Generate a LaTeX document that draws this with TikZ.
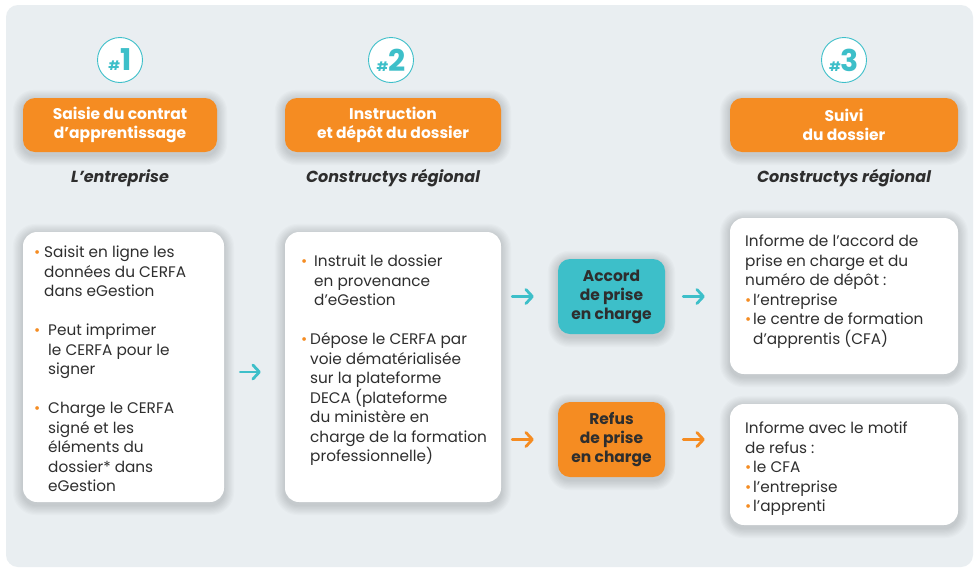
\documentclass[tikz,border=0pt]{standalone}
\usepackage{fontspec}
\setmainfont{Poppins}
\usetikzlibrary{arrows.meta,calc}
\definecolor{bgc}{HTML}{E9EEF1}
\definecolor{orc}{HTML}{F58C22}
\definecolor{tlc}{HTML}{3DBFC9}
\definecolor{txc}{HTML}{2E2E2E}
\pgfdeclarelayer{bgl}
\pgfdeclarelayer{shl}
\pgfsetlayers{bgl,shl,main}
\newcommand{\bl}[1]{\makebox[#1][l]{\textcolor{orc}{\fontsize{15}{15}\selectfont •}}}
\newcommand{\ind}[1]{\hspace*{#1}}
\newcommand{\softsh}[2]{%
  \begin{pgfonlayer}{shl}
  \foreach \i in {1,...,9}{
    \fill[black, opacity=0.016, rounded corners={#2+\i*1pt}]
      ($(#1.south west)+(-\i*1.1,-\i*1.1-3)$) rectangle ($(#1.north east)+(\i*1.1,\i*1.1-2)$);
  }
  \end{pgfonlayer}}
\tikzset{
  wbox/.style={fill=white, rounded corners=14pt, inner sep=0pt},
  hbox/.style={fill=orc, rounded corners=12pt, inner sep=0pt, text=white, align=center,
    font=\fontsize{15.5}{19}\selectfont\bfseries, minimum height=54pt},
  dbox/.style={rounded corners=12pt, inner sep=0pt, text=txc, align=center,
    font=\fontsize{15.5}{19}\selectfont\bfseries, minimum width=107pt, minimum height=75pt},
  numc/.style={circle, draw=tlc, line width=0.9pt, fill=white, minimum size=45pt, inner sep=0pt, text=tlc},
  who/.style={font=\fontsize{16}{18}\selectfont\bfseries\itshape, text=txc},
  body/.style={font=\fontsize{15.3}{19.5}\selectfont, text=txc, align=left, inner sep=0pt, anchor=north west},
  arr/.style={line width=2.8pt, line cap=round, -{Straight Barb[length=6.5pt,width=14pt,line cap=round,line join=round]}},
}
\newcommand{\numtxt}[1]{{\fontsize{13}{13}\selectfont\bfseries\#}{\fontsize{30}{30}\selectfont\bfseries #1}}
\begin{document}
\begin{tikzpicture}[x=1pt,y=1pt]
\useasboundingbox (0,0) rectangle (976,-568);
\begin{pgfonlayer}{bgl}
\fill[white] (0,0) rectangle (976,-568);
\fill[bgc, rounded corners=12pt] (6,-5) rectangle (973,-567);
\end{pgfonlayer}

% numbers
\node[numc] (c1) at (120,-60) {\numtxt{1}};
\node[numc] (c2) at (391,-60) {\numtxt{2}};
\node[numc] (c3) at (844,-60) {\numtxt{3}};

% headers
\node[hbox, minimum width=194pt] (h1) at (120,-125) {Saisie du contrat\\d’apprentissage};
\node[hbox, minimum width=216pt] (h2) at (393,-125) {Instruction\\et dépôt du dossier};
\node[hbox, minimum width=228pt] (h3) at (844,-125) {Suivi\\du dossier};

% who
\node[who] (w1) at (120,-178) {L’entreprise};
\node[who] (w2) at (393,-178) {Constructys régional};
\node[who] (w3) at (844,-178) {Constructys régional};

% white boxes
\node[wbox, minimum width=201pt, minimum height=270pt] (bA) at (123.5,-367) {};
\node[wbox, minimum width=216pt, minimum height=270pt] (bB) at (393,-367) {};
\node[wbox, minimum width=228pt, minimum height=156pt] (bC) at (844,-296) {};
\node[wbox, minimum width=228pt, minimum height=121pt] (bD) at (844,-464.5) {};

% decision boxes
\node[dbox, fill=tlc] (acc) at (611.5,-296.5) {Accord\\de prise\\en charge};
\node[dbox, fill=orc] (ref) at (611.5,-439.5) {Refus\\de prise\\en charge};

% shadows
\softsh{h1}{12pt}\softsh{h2}{12pt}\softsh{h3}{12pt}
\softsh{bA}{14pt}\softsh{bB}{14pt}\softsh{bC}{14pt}\softsh{bD}{14pt}
\softsh{acc}{12pt}\softsh{ref}{12pt}

% texts
\node[body] (tA) at (34,-246) {\bl{10pt}Saisit en ligne les\\
\ind{10pt}données du CERFA\\
\ind{10pt}dans eGestion\\[19.5pt]
\bl{14pt}Peut imprimer\\
\ind{14pt}le CERFA pour le\\
\ind{14pt}signer\\[19.5pt]
\bl{14pt}Charge le CERFA\\
\ind{14pt}signé et les\\
\ind{14pt}éléments du\\
\ind{14pt}dossier* dans\\
\ind{14pt}eGestion};

\node[body] (tB) at (301,-255) {\bl{13pt}Instruit le dossier\\
\ind{13pt}en provenance\\
\ind{13pt}d’eGestion\\[19.5pt]
\bl{9pt}Dépose le CERFA par\\
\ind{9pt}voie dématérialisée\\
\ind{9pt}sur la plateforme\\
\ind{9pt}DECA (plateforme\\
\ind{9pt}du ministère en\\
\ind{9pt}charge de la formation\\
\ind{9pt}professionnelle)};

\node[body] (tC) at (745,-235) {Informe de l’accord de\\
prise en charge et du\\
numéro de dépôt :\\
\bl{8pt}l’entreprise\\
\bl{8pt}le centre de formation\\
\ind{8pt}d’apprentis (CFA)};

\node[body] (tD) at (745,-422) {Informe avec le motif\\
de refus :\\
\bl{8pt}le CFA\\
\bl{8pt}l’entreprise\\
\bl{8pt}l’apprenti};

% arrows
\draw[arr, tlc, shorten <=16pt, shorten >=24pt] (bA.east |- 0,-372) -- (bB.west |- 0,-372);
\draw[arr, tlc, shorten <=11pt, shorten >=24pt] (bB.east |- acc.west) -- (acc.west);
\draw[arr, orc, shorten <=11pt, shorten >=24pt] (bB.east |- ref.west) -- (ref.west);
\draw[arr, tlc, shorten <=18pt, shorten >=25pt] (acc.east) -- (acc.east -| bC.west);
\draw[arr, orc, shorten <=18pt, shorten >=25pt] (ref.east) -- (ref.east -| bD.west);
\end{tikzpicture}
\end{document}
